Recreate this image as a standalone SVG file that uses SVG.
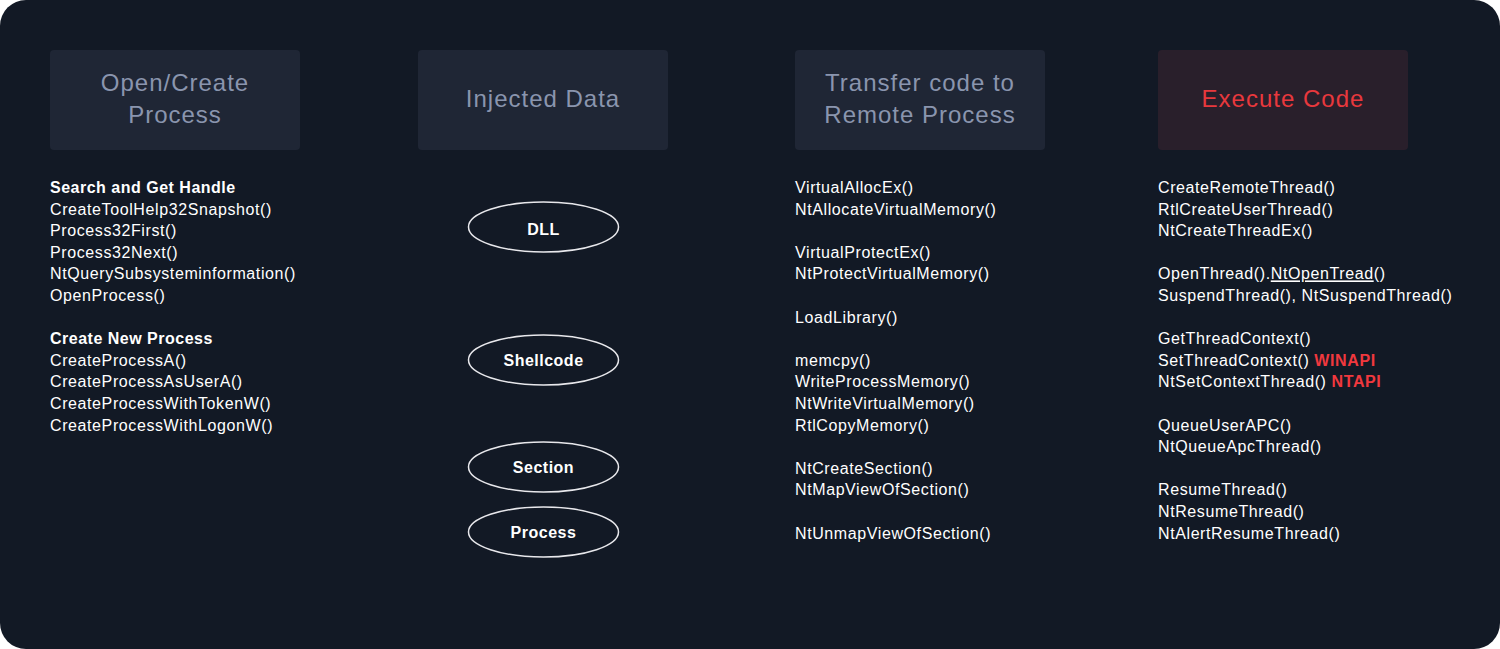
<svg xmlns="http://www.w3.org/2000/svg" width="1500" height="649" viewBox="0 0 1500 649">
<style>
.hdr{font-family:"Liberation Sans",Arial,sans-serif;font-size:24px;fill:#8a95ae;text-anchor:middle;letter-spacing:1px}
.t{font-family:"Liberation Sans",Arial,sans-serif;font-size:16px;fill:#ffffff;letter-spacing:0.6px}
.b{font-weight:bold;letter-spacing:0.5px}
.red{fill:#f0383e;font-weight:bold}
.box{fill:#1f2635}
.ell{fill:none;stroke:#e8e8ec;stroke-width:1.5}
.el{font-family:"Liberation Sans",Arial,sans-serif;font-size:16px;font-weight:bold;fill:#ffffff;text-anchor:middle;letter-spacing:0.5px}
</style>
<rect x="0" y="0" width="1500" height="649" fill="#ffffff"/>
<rect x="0" y="0" width="1500" height="649" rx="26" fill="#121925"/>
<g id="connectors"></g>
<g id="open-create">
<rect class="box" x="50" y="50" width="250" height="100" rx="4"/>
<text class="hdr" x="175" y="91">Open/Create</text>
<text class="hdr" x="175" y="123">Process</text>
<text class="t b" x="50" y="193">Search and Get Handle</text>
<text class="t" x="50" y="214.6">CreateToolHelp32Snapshot()</text>
<text class="t" x="50" y="236.2">Process32First()</text>
<text class="t" x="50" y="257.8">Process32Next()</text>
<text class="t" x="50" y="279.4">NtQuerySubsysteminformation()</text>
<text class="t" x="50" y="301">OpenProcess()</text>
<text class="t b" x="50" y="344.2">Create New Process</text>
<text class="t" x="50" y="365.8">CreateProcessA()</text>
<text class="t" x="50" y="387.4">CreateProcessAsUserA()</text>
<text class="t" x="50" y="409">CreateProcessWithTokenW()</text>
<text class="t" x="50" y="430.6">CreateProcessWithLogonW()</text>
</g>
<g id="injected-data">
<rect class="box" x="418" y="50" width="250" height="100" rx="4"/>
<text class="hdr" x="543" y="107">Injected Data</text>
</g>
<g id="dll">
<ellipse class="ell" cx="543.5" cy="227" rx="75" ry="25"/>
<text class="el" x="543.5" y="235">DLL</text>
</g>
<g id="shellcode">
<ellipse class="ell" cx="543.5" cy="360" rx="75" ry="25"/>
<text class="el" x="543.5" y="366">Shellcode</text>
</g>
<g id="section">
<ellipse class="ell" cx="543.5" cy="467" rx="75" ry="25"/>
<text class="el" x="543.5" y="473">Section</text>
</g>
<g id="process">
<ellipse class="ell" cx="543.5" cy="532" rx="75" ry="25"/>
<text class="el" x="543.5" y="538">Process</text>
</g>
<g id="transfer">
<rect class="box" x="795" y="50" width="250" height="100" rx="4"/>
<text class="hdr" x="920" y="91">Transfer code to</text>
<text class="hdr" x="920" y="123">Remote Process</text>
<text class="t" x="795" y="193">VirtualAllocEx()</text>
<text class="t" x="795" y="214.6">NtAllocateVirtualMemory()</text>
<text class="t" x="795" y="257.8">VirtualProtectEx()</text>
<text class="t" x="795" y="279.4">NtProtectVirtualMemory()</text>
<text class="t" x="795" y="322.6">LoadLibrary()</text>
<text class="t" x="795" y="365.8">memcpy()</text>
<text class="t" x="795" y="387.4">WriteProcessMemory()</text>
<text class="t" x="795" y="409">NtWriteVirtualMemory()</text>
<text class="t" x="795" y="430.6">RtlCopyMemory()</text>
<text class="t" x="795" y="473.8">NtCreateSection()</text>
<text class="t" x="795" y="495.4">NtMapViewOfSection()</text>
<text class="t" x="795" y="538.6">NtUnmapViewOfSection()</text>
</g>
<g id="execute">
<rect x="1158" y="50" width="250" height="100" rx="4" fill="#291f2b"/>
<text class="hdr" x="1283" y="107" style="fill:#e8383d">Execute Code</text>
<text class="t" x="1158" y="193">CreateRemoteThread()</text>
<text class="t" x="1158" y="214.6">RtlCreateUserThread()</text>
<text class="t" x="1158" y="236.2">NtCreateThreadEx()</text>
<text class="t" x="1158" y="279.4">OpenThread().<tspan text-decoration="underline">NtOpenTread</tspan>()</text>
<text class="t" x="1158" y="301">SuspendThread(), NtSuspendThread()</text>
<text class="t" x="1158" y="344.2">GetThreadContext()</text>
<text class="t" x="1158" y="365.8">SetThreadContext() <tspan class="red">WINAPI</tspan></text>
<text class="t" x="1158" y="387.4">NtSetContextThread() <tspan class="red">NTAPI</tspan></text>
<text class="t" x="1158" y="430.6">QueueUserAPC()</text>
<text class="t" x="1158" y="452.2">NtQueueApcThread()</text>
<text class="t" x="1158" y="495.4">ResumeThread()</text>
<text class="t" x="1158" y="517">NtResumeThread()</text>
<text class="t" x="1158" y="538.6">NtAlertResumeThread()</text>
</g>
</svg>
